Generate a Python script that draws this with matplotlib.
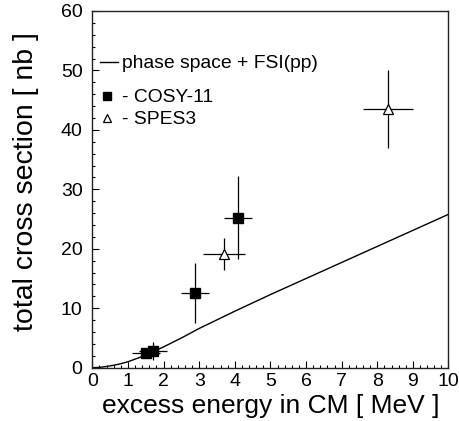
import matplotlib
matplotlib.use("Agg")
import matplotlib.pyplot as plt
from matplotlib.ticker import MultipleLocator

# Data
curve_E = [0.0, 0.25, 0.5, 0.75, 1.0, 1.5, 2.0, 2.5, 3.0, 4.0, 5.0, 6.0, 7.0, 8.0, 9.0, 10.0]
curve_sigma = [0.0, 0.08, 0.3, 0.6, 1.0, 2.1, 3.5, 5.0, 6.6, 9.5, 12.3, 15.0, 17.7, 20.4, 23.1, 25.8]

cosy_E = [1.51, 1.70, 2.89, 4.10]
cosy_sigma = [2.5, 2.8, 12.6, 25.2]
cosy_Eerr = [0.40, 0.40, 0.39, 0.39]
cosy_serr = [0.8, 1.5, 5.0, 7.0]

spes_E = [3.71, 8.30]
spes_sigma = [19.2, 43.5]
spes_Eerr = [0.59, 0.69]
spes_serr = [2.7, 6.5]

xlabel = "excess energy in CM [ MeV ]"
ylabel = "total cross section [ nb ]"
leg_curve = "phase space + FSI(pp)"
leg_cosy = "- COSY-11"
leg_spes = "- SPES3"

plt.rcParams['font.family'] = ['Liberation Sans', 'DejaVu Sans']

fig = plt.figure(figsize=(4.6, 4.21), dpi=100)
ax = fig.add_axes([0.2007, 0.1266, 0.7743, 0.8473])

ax.plot(curve_E, curve_sigma, color='black', lw=1.0)
ax.errorbar(cosy_E, cosy_sigma, xerr=cosy_Eerr, yerr=cosy_serr, fmt='s',
            color='black', ms=6.5, elinewidth=0.9, capsize=0, mfc='black', mec='black')
ax.errorbar(spes_E, spes_sigma, xerr=spes_Eerr, yerr=spes_serr, fmt='^',
            color='black', ms=7, elinewidth=0.9, capsize=0, mfc='white', mec='black', mew=0.9)

ax.set_xlim(0, 10)
ax.set_ylim(0, 60)
ax.xaxis.set_major_locator(MultipleLocator(1))
ax.xaxis.set_minor_locator(MultipleLocator(0.2))
ax.yaxis.set_major_locator(MultipleLocator(10))
ax.yaxis.set_minor_locator(MultipleLocator(2))
ax.tick_params(which='both', direction='in', top=False, right=False, width=0.8, color='black')
ax.tick_params(which='major', length=5)
ax.tick_params(which='minor', length=2.5)
ax.tick_params(axis='x', which='major', labelsize=14, pad=4)
ax.tick_params(axis='y', which='major', labelsize=14, pad=7)
for s in ax.spines.values():
    s.set_linewidth(1.0)
    s.set_color('#222222')

ax.set_xlabel(xlabel, fontsize=19, ha='right', va='baseline')
ax.xaxis.set_label_coords(0.976, -0.127)
ax.set_ylabel(ylabel, fontsize=20.5, va='center', loc='top')
ax.yaxis.set_label_coords(-0.1875, 0.941)

# Legend (drawn by hand like the original)
ax.plot([0.0216, 0.0724], [0.857, 0.857], color='black', lw=1.0, transform=ax.transAxes, clip_on=False)
ax.text(0.0825, 0.839, leg_curve, transform=ax.transAxes, fontsize=13.9, va='baseline', ha='left')
ax.plot([0.0399], [0.761], 's', color='black', ms=6, transform=ax.transAxes, clip_on=False)
ax.text(0.0825, 0.746, leg_cosy, transform=ax.transAxes, fontsize=13.9, va='baseline', ha='left')
ax.plot([0.0399], [0.699], '^', mfc='white', mec='black', ms=6, mew=0.9, transform=ax.transAxes, clip_on=False)
ax.text(0.0825, 0.683, leg_spes, transform=ax.transAxes, fontsize=13.9, va='baseline', ha='left')

fig.savefig("out.png", dpi=100)
